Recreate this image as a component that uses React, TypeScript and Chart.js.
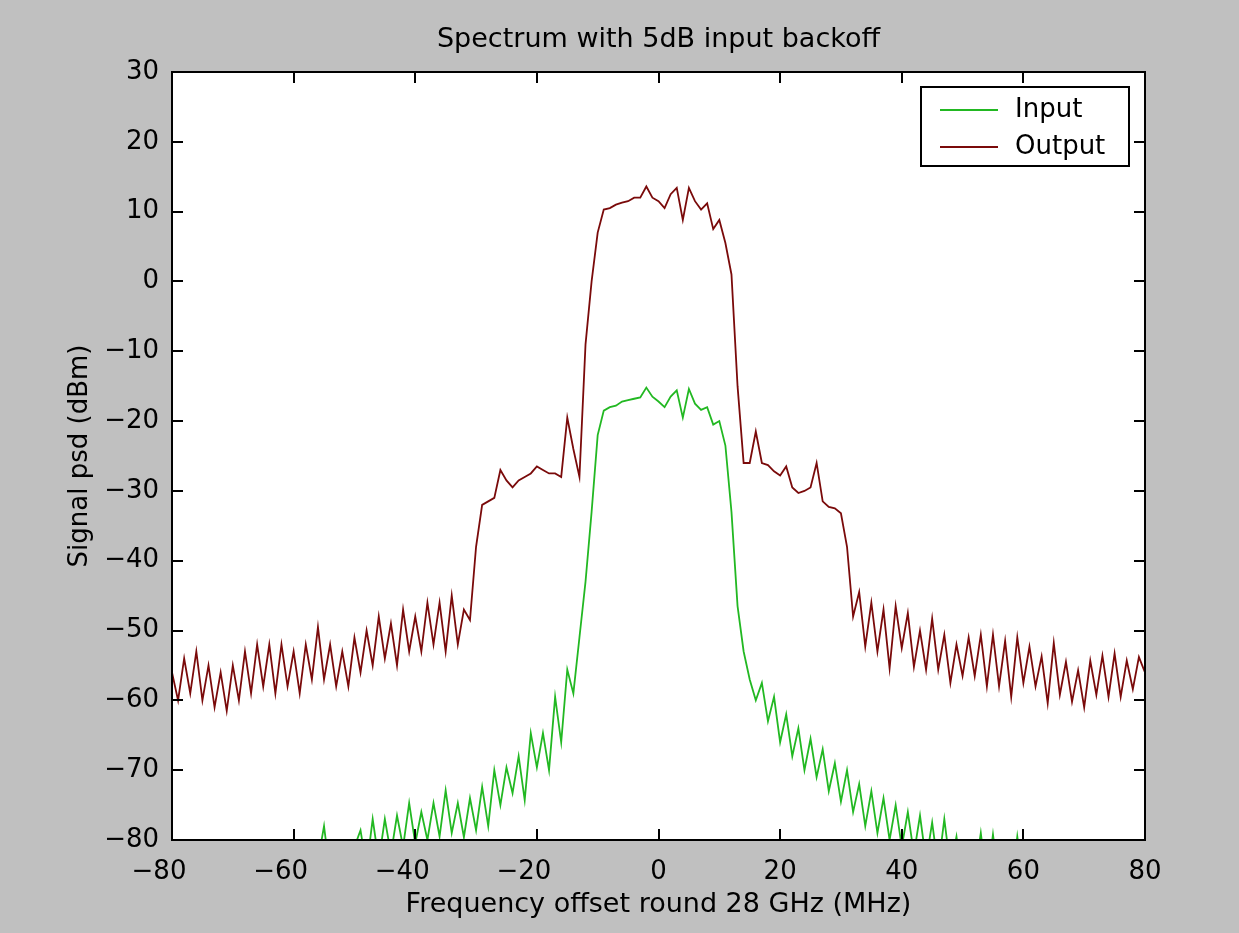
import { useEffect, useRef } from "react";
import { Chart, registerables } from "chart.js";

Chart.register(...registerables);

// Frequency grid (MHz): first sample and spacing
const FREQ_MIN = -80;
const FREQ_STEP = 1;

// Output PSD (dBm), one value per MHz from -80 to 80
const outputPsd = [
  // -80 .. -71
  -56, -60, -54, -59, -53, -60, -55, -61, -56, -61.5,
  // -70 .. -61
  -55, -60, -53, -59, -52, -58, -52, -59, -52, -58,
  // -60 .. -51
  -53, -59, -52, -57, -49.5, -57, -52, -58, -53, -58,
  // -50 .. -41
  -51, -56, -50, -55, -48, -54, -49, -55, -47, -53,
  // -40 .. -31
  -48, -53, -46, -52, -46, -53, -45, -52, -47, -48.5,
  // -30 .. -21
  -38, -32, -31.5, -31, -27, -28.5, -29.5, -28.5, -28, -27.5,
  // -20 .. -11
  -26.5, -27, -27.5, -27.5, -28, -19.5, -24, -28, -9, 0,
  // -10 .. -1
  7, 10.3, 10.5, 11, 11.3, 11.5, 12, 12, 13.6, 12,
  // 0 .. 9
  11.5, 10.5, 12.5, 13.4, 8.8, 13.4, 11.5, 10.3, 11.2, 7.5,
  // 10 .. 19
  8.8, 5.5, 1, -15, -26, -26, -21.5, -26, -26.3, -27.2,
  // 20 .. 29
  -27.8, -26.5, -29.5, -30.3, -30, -29.5, -26, -31.5, -32.3, -32.5,
  // 30 .. 39
  -33.2, -38, -48, -44.5, -52.3, -46, -53, -47, -55.4, -46.5,
  // 40 .. 49
  -52.5, -47.5, -55.2, -50, -55.6, -48.3, -55.6, -50.6, -57.5, -52,
  // 50 .. 59
  -56.5, -51, -56.5, -50.6, -58, -50.6, -58, -51.5, -59.5, -51,
  // 60 .. 69
  -57.5, -52.3, -58, -53.7, -60.4, -51.8, -59.2, -54.5, -60.2, -55.7,
  // 70 .. 79
  -61, -54.3, -59.2, -53.6, -59.5, -53.3, -59.5, -54.3, -58.4, -53.8,
  // 80
  -56,
];

// Input PSD (dBm), one value per MHz from -80 to 80
const inputPsd = [
  // -80 .. -71
  -88, -91, -87, -92, -88, -90, -86, -91, -88, -92,
  // -70 .. -61
  -87, -90, -86, -91, -87, -92, -88, -90, -86, -89,
  // -60 .. -51
  -86, -89, -85, -88, -83, -78, -85, -88, -84, -87,
  // -50 .. -41
  -81, -78.6, -84, -77, -83, -77, -82, -76.5, -81, -74.7,
  // -40 .. -31
  -80.5, -76, -80, -74.7, -79.5, -72.9, -79, -74.7, -79.6, -74,
  // -30 .. -21
  -78.6, -72.4, -78, -70, -75, -69.6, -73.3, -68, -74.3, -64.7,
  // -20 .. -11
  -69.6, -64.7, -70, -59.5, -66, -55.6, -59, -51, -43, -33,
  // -10 .. -1
  -22, -18.5, -18, -17.8, -17.2, -17, -16.8, -16.6, -15.2, -16.5,
  // 0 .. 9
  -17.2, -18, -16.5, -15.6, -19.5, -15.4, -17.5, -18.4, -18, -20.5,
  // 10 .. 19
  -20, -23.5, -33, -46.5, -53, -57, -60, -57.5, -63, -59.5,
  // 20 .. 29
  -66, -62, -68, -64, -70, -65.5, -71, -67, -73, -69,
  // 30 .. 39
  -74.5, -70, -76, -72, -78, -73, -79, -74, -80, -75,
  // 40 .. 49
  -81, -76, -82, -76.5, -83, -77.5, -84, -77, -84, -79.5,
  // 50 .. 59
  -86, -81, -85, -79, -86, -79.2, -86, -81, -87, -79.5,
  // 60 .. 69
  -86, -89, -87, -91, -88, -90, -87, -92, -88, -90,
  // 70 .. 79
  -86, -91, -87, -90, -88, -92, -87, -90, -86, -89,
  // 80
  -88,
];

const seriesNames = ["Input", "Output"];
const seriesColors = ["#22b822", "#7a0a0a"];

const X_MIN = -80;
const X_MAX = 80;
const X_STEP = 20;
const Y_MIN = -80;
const Y_MAX = 30;
const Y_STEP = 10;

const TITLE = "Spectrum with 5dB input backoff";
const X_TITLE = "Frequency offset round 28 GHz (MHz)";
const Y_TITLE = "Signal psd (dBm)";

const FONT = "'DejaVu Sans', 'Liberation Sans', sans-serif";
const BG = "#c0c0c0";

const freqMHz = outputPsd.map((_, i) => FREQ_MIN + i * FREQ_STEP);

const fmtNeg = (v: number) => (v < 0 ? "\u2212" + Math.abs(v) : String(v));

const backgroundPlugin = {
  id: "matlabBackground",
  beforeDraw(chart: any) {
    const { ctx, chartArea } = chart;
    ctx.save();
    ctx.fillStyle = BG;
    ctx.fillRect(0, 0, chart.width, chart.height);
    ctx.fillStyle = "#ffffff";
    ctx.fillRect(
      chartArea.left,
      chartArea.top,
      chartArea.right - chartArea.left,
      chartArea.bottom - chartArea.top
    );
    ctx.restore();
  },
};

const framePlugin = {
  id: "matlabFrame",
  afterDatasetsDraw(chart: any) {
    const { ctx, chartArea } = chart;
    const { left, right, top, bottom } = chartArea;
    const xs = chart.scales.x;
    const ys = chart.scales.y;
    const tl = 11;
    ctx.save();
    ctx.strokeStyle = "#000";
    ctx.lineWidth = 2;
    ctx.beginPath();
    xs.ticks.forEach((t: any) => {
      const px = Math.round(xs.getPixelForValue(t.value));
      ctx.moveTo(px, bottom);
      ctx.lineTo(px, bottom - tl);
      ctx.moveTo(px, top);
      ctx.lineTo(px, top + tl);
    });
    ys.ticks.forEach((t: any) => {
      const py = Math.round(ys.getPixelForValue(t.value));
      ctx.moveTo(left, py);
      ctx.lineTo(left + tl, py);
      ctx.moveTo(right, py);
      ctx.lineTo(right - tl, py);
    });
    ctx.stroke();
    ctx.strokeRect(left, top, right - left, bottom - top);
    ctx.restore();
  },
};

const legendPlugin = {
  id: "matlabLegend",
  afterDraw(chart: any) {
    const { ctx, chartArea } = chart;
    const w = 208;
    const h = 79;
    const bx = chartArea.right - 16 - w;
    const by = chartArea.top + 15;
    ctx.save();
    ctx.fillStyle = "#ffffff";
    ctx.fillRect(bx, by, w, h);
    ctx.strokeStyle = "#000";
    ctx.lineWidth = 2;
    ctx.strokeRect(bx, by, w, h);
    ctx.font = `26px ${FONT}`;
    ctx.textBaseline = "middle";
    ctx.textAlign = "left";
    chart.data.datasets.forEach((ds: any, i: number) => {
      const ly = by + 23 + i * 37;
      ctx.strokeStyle = ds.borderColor;
      ctx.lineWidth = 2;
      ctx.beginPath();
      ctx.moveTo(bx + 19, ly);
      ctx.lineTo(bx + 77, ly);
      ctx.stroke();
      ctx.fillStyle = "#000";
      ctx.fillText(ds.label, bx + 94, ly);
    });
    ctx.restore();
  },
};

export default function App() {
  const canvasRef = useRef<HTMLCanvasElement | null>(null);

  useEffect(() => {
    document.body.style.margin = "0";
    document.body.style.background = BG;
    const canvas = canvasRef.current;
    if (!canvas) return;

    const series = [inputPsd, outputPsd];
    const chart = new Chart(canvas, {
      type: "line",
      data: {
        datasets: series.map((vals, s) => ({
          label: seriesNames[s],
          data: freqMHz.map((f, i) => ({ x: f, y: vals[i] })),
          borderColor: seriesColors[s],
          backgroundColor: seriesColors[s],
          borderWidth: 1.8,
          pointRadius: 0,
          tension: 0,
          fill: false,
        })),
      },
      options: {
        responsive: false,
        animation: false,
        devicePixelRatio: 1,
        parsing: false as any,
        normalized: true,
        events: [],
        layout: { padding: { left: 0, right: 94, top: 0, bottom: 0 } },
        plugins: {
          legend: { display: false },
          tooltip: { enabled: false },
          title: {
            display: true,
            fullSize: false,
            text: TITLE,
            color: "#000",
            font: { family: FONT, size: 27, weight: "normal" as any, lineHeight: 1.2 },
            padding: { top: 24, bottom: 15.6 },
          },
        },
        scales: {
          x: {
            type: "linear",
            min: X_MIN,
            max: X_MAX,
            grid: { display: false, drawTicks: false },
            border: { display: false },
            ticks: {
              stepSize: X_STEP,
              autoSkip: false,
              maxRotation: 0,
              minRotation: 0,
              padding: 17,
              color: "#000",
              font: { family: FONT, size: 26 },
              callback: (v: any) => (v < 0 ? fmtNeg(v) + "\u2003" : String(v)),
            },
            title: {
              display: true,
              text: X_TITLE,
              color: "#000",
              font: { family: FONT, size: 27, lineHeight: 1.2 },
              padding: { top: 0, bottom: 11.8 },
            },
            afterFit: (scale: any) => {
              scale.height = 93;
            },
          },
          y: {
            type: "linear",
            min: Y_MIN,
            max: Y_MAX,
            grid: { display: false, drawTicks: false },
            border: { display: false },
            ticks: {
              stepSize: Y_STEP,
              autoSkip: false,
              padding: 13,
              color: "#000",
              font: { family: FONT, size: 26 },
              callback: (v: any) => fmtNeg(v),
            },
            title: {
              display: true,
              text: Y_TITLE,
              color: "#000",
              font: { family: FONT, size: 26, lineHeight: 1.2 },
              padding: { top: 64.4, bottom: 0 },
            },
            afterFit: (scale: any) => {
              scale.width = 172;
            },
          },
        },
      },
      plugins: [backgroundPlugin, framePlugin, legendPlugin],
    });

    return () => {
      chart.destroy();
    };
  }, []);

  return (
    <div style={{ width: 1239, height: 933, background: BG }}>
      <canvas ref={canvasRef} width={1239} height={933} style={{ display: "block" }} />
    </div>
  );
}
